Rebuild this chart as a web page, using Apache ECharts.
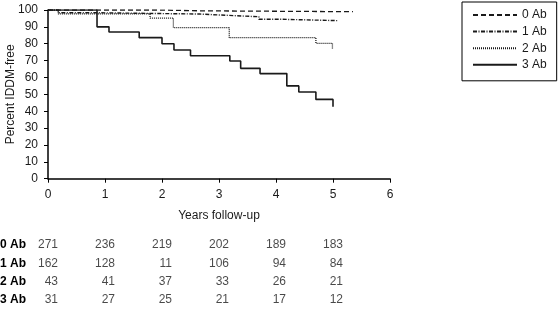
<!DOCTYPE html>
<html><head><meta charset="utf-8">
<script src="https://cdn.jsdelivr.net/npm/echarts@6/dist/echarts.min.js"></script>
<style>html,body{margin:0;padding:0;background:#fff}#c{width:558px;height:325px}</style>
</head><body><div id="c"></div>
<script>
var seriesNames = ['0 Ab', '1 Ab', '2 Ab', '3 Ab'];
var ab0Times = [0, 1.9, 2.7, 5.35];
var ab0Surv  = [100, 99.5, 99, 99];
var ab1Times = [0, 0.18, 0.8, 2.66, 3.3, 3.7, 4.1, 5.08];
var ab1Surv  = [100, 98.4, 97.6, 96.6, 96, 94.5, 93.7, 93.7];
var ab2Times = [0, 0.18, 1.79, 2.2, 3.18, 4.7, 4.99];
var ab2Surv  = [100, 97.7, 95.2, 89.5, 83.6, 80.2, 76.7];
var ab3Times = [0, 0.86, 1.07, 1.6, 2.0, 2.21, 2.5, 3.19, 3.38, 3.72, 4.19, 4.4, 4.7, 5.0];
var ab3Surv  = [100, 90, 87, 83.6, 80, 76.3, 72.9, 69.8, 65.4, 62.3, 55, 51.4, 47, 42.7];
var riskYears = [0, 1, 2, 3, 4, 5];
var risk0 = [271, 236, 219, 202, 189, 183];
var risk1 = [162, 128, 11, 106, 94, 84];
var risk2 = [43, 41, 37, 33, 26, 21];
var risk3 = [31, 27, 25, 21, 17, 12];

function pairs(t, s) { return t.map(function (x, i) { return [x, s[i]]; }); }
var FONT = 'Liberation Sans, Arial, sans-serif';
var INK = '#1a1a1a';
var curves = [
  {t: ab0Times, s: ab0Surv, type: [5, 3], w: 1.3},
  {t: ab1Times, s: ab1Surv, type: [4, 1.5, 1, 1.5], w: 1.4},
  {t: ab2Times, s: ab2Surv, type: [1, 1], w: 1.3},
  {t: ab3Times, s: ab3Surv, type: 'solid', w: 1.6}
];
var riskRows = [risk0, risk1, risk2, risk3];

var series = curves.map(function (c, i) {
  return {
    name: seriesNames[i], type: 'line', step: 'end', symbol: 'none', showSymbol: false,
    xAxisIndex: 0, yAxisIndex: 0, z: 10 - i,
    data: pairs(c.t, c.s),
    lineStyle: {color: INK, width: c.w, type: c.type},
    itemStyle: {color: INK}
  };
});
var riskData = [];
riskRows.forEach(function (row, r) {
  row.forEach(function (v, k) { riskData.push([riskYears[k], seriesNames[r], v]); });
});
series.push({
  type: 'scatter', xAxisIndex: 1, yAxisIndex: 1, symbolSize: 1,
  itemStyle: {color: 'rgba(0,0,0,0)'}, silent: true,
  data: riskData,
  label: {show: true, position: 'inside', align: 'right', verticalAlign: 'middle', offset: [10, 0],
    color: INK, fontFamily: FONT, fontSize: 12,
    formatter: function (p) { return String(p.data[2]); }}
});

var chart = echarts.init(document.getElementById('c'), null, {renderer: 'canvas'});
chart.setOption({
  animation: false,
  backgroundColor: '#fff',
  textStyle: {fontFamily: FONT},
  legend: {
    data: seriesNames.map(function (n) { return {name: n}; }),
    orient: 'vertical', left: 462, top: 2,
    padding: [7, 10, 10, 10], itemGap: 4.6, itemWidth: 44, itemHeight: 14,
    borderColor: '#000', borderWidth: 1,
    itemStyle: {opacity: 0},
    textStyle: {color: INK, fontSize: 12, fontFamily: FONT}
  },
  grid: [
    {left: 48, width: 342, top: 10, height: 168.7, outerBoundsMode: 'none', containLabel: false},
    {left: 48, width: 342, top: 236, height: 73.3, outerBoundsMode: 'none', containLabel: false}
  ],
  xAxis: [
    {type: 'value', gridIndex: 0, min: 0, max: 6, interval: 1,
      name: 'Years follow-up', nameLocation: 'middle', nameGap: 31,
      nameTextStyle: {color: INK, fontSize: 12, fontFamily: FONT},
      axisLine: {lineStyle: {color: '#000', width: 1.5}},
      axisTick: {show: true, length: 4, lineStyle: {color: '#000'}},
      axisLabel: {color: INK, fontSize: 12, margin: 10, fontFamily: FONT},
      splitLine: {show: false}},
    {type: 'value', gridIndex: 1, min: 0, max: 6, show: false}
  ],
  yAxis: [
    {type: 'value', gridIndex: 0, min: 0, max: 100, interval: 10,
      name: 'Percent IDDM-free', nameLocation: 'middle', nameGap: 31, nameMoveOverlap: false,
      nameTextStyle: {color: INK, fontSize: 12, fontFamily: FONT},
      axisLine: {show: true, lineStyle: {color: '#000', width: 1.5}},
      axisTick: {show: true, length: 4, lineStyle: {color: '#000'}},
      axisLabel: {color: INK, fontSize: 12, margin: 10, fontFamily: FONT},
      splitLine: {show: false}},
    {type: 'category', gridIndex: 1, data: seriesNames, inverse: true,
      axisLine: {show: false}, axisTick: {show: false}, splitLine: {show: false},
      axisLabel: {align: 'left', margin: 48, color: '#000', fontWeight: 'bold', fontSize: 12, fontFamily: FONT}}
  ],
  series: series
});
</script></body></html>
